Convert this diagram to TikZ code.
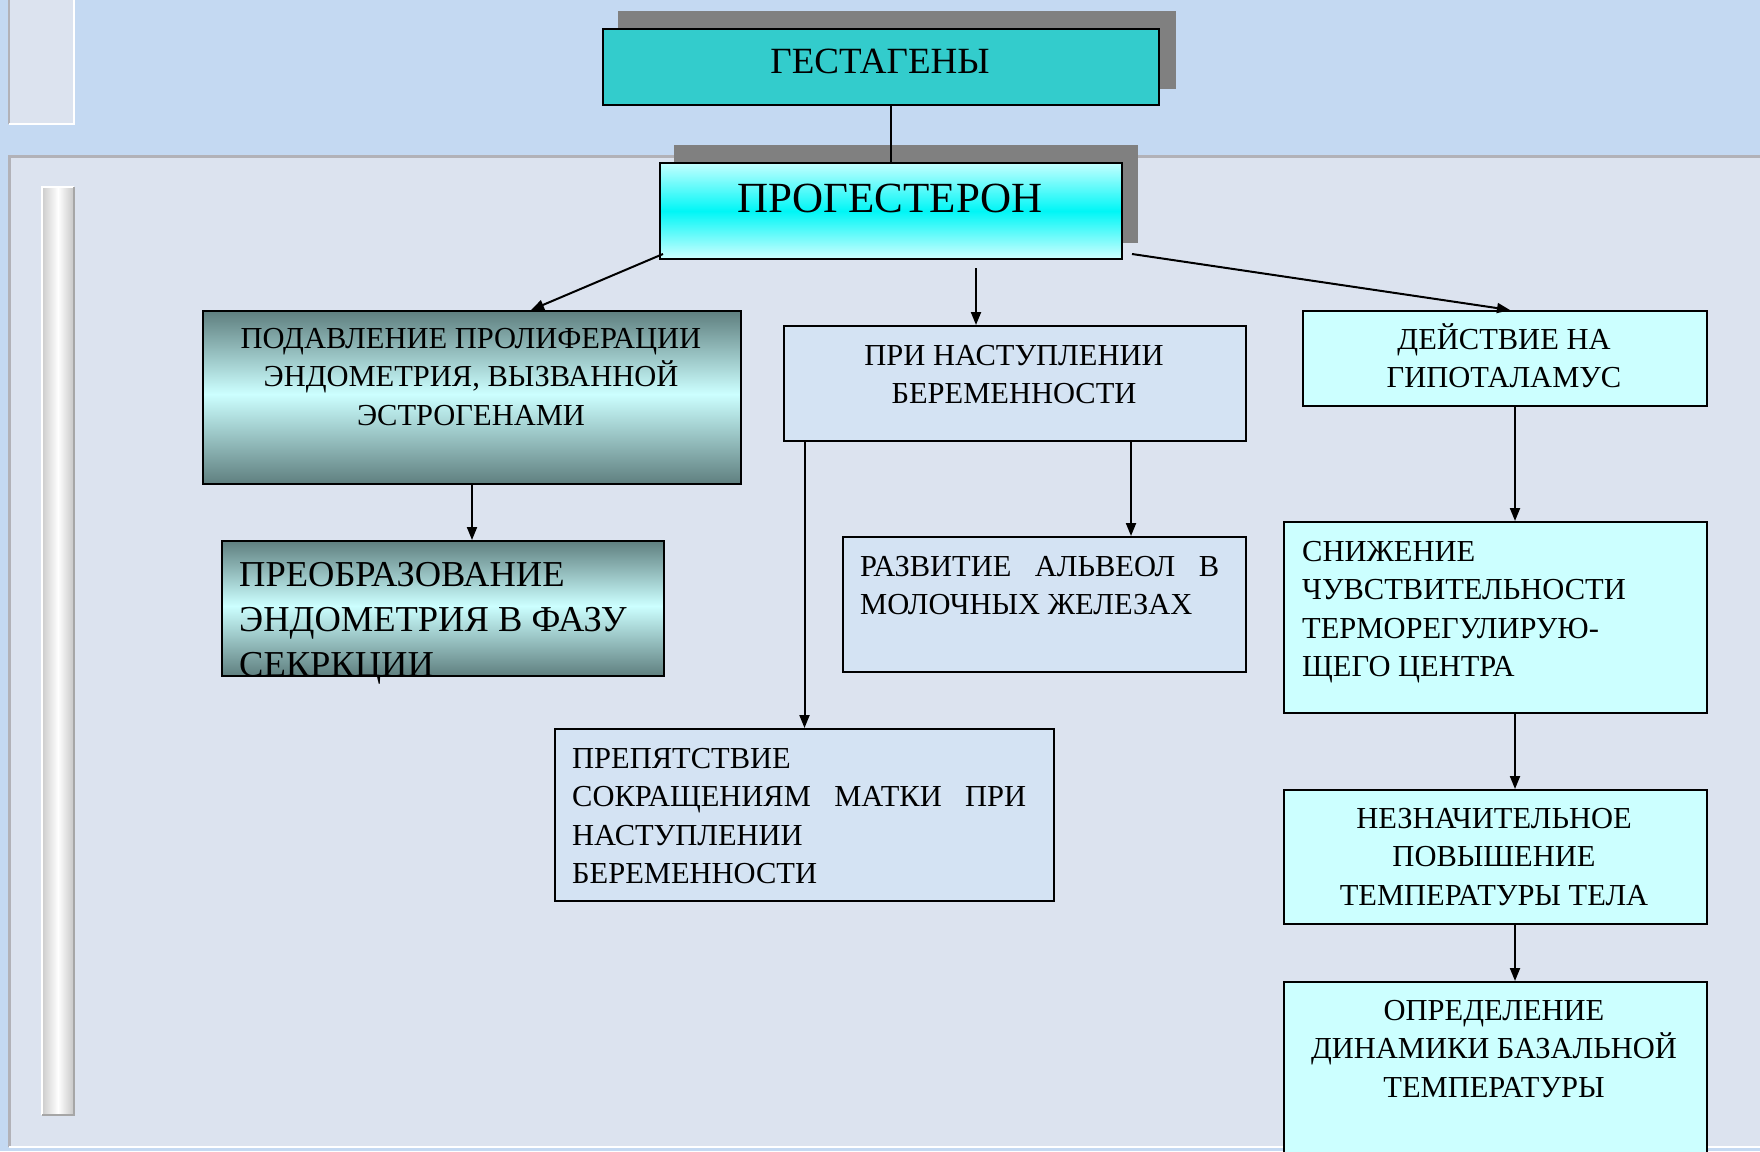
\documentclass[tikz,border=0pt]{standalone}
\usepackage{fontspec}
\setmainfont{Liberation Serif}
\usetikzlibrary{arrows.meta}

% palette
\definecolor{bandblue}{HTML}{C4D9F2}
\definecolor{panelgray}{HTML}{DCE3EF}
\definecolor{panelline}{HTML}{B2B2B8}
\definecolor{paleblue}{HTML}{D4E3F3}
\definecolor{palecyan}{HTML}{CCFFFF}
\definecolor{gestfill}{HTML}{33CCCC}
\definecolor{shadowgray}{HTML}{808080}
\definecolor{progtop}{HTML}{C4FFFF}
\definecolor{progcyan}{HTML}{00F6F6}
\definecolor{progbot}{HTML}{D0FFFF}
\definecolor{steeldark}{HTML}{5F7F7F}
\definecolor{steellight}{HTML}{CCFFFF}

% vertical shadings: the node's box spans 25bp (bottom) to 75bp (top)
\pgfdeclareverticalshading{progshade}{100bp}{color(0bp)=(progbot); color(25bp)=(progbot); color(50bp)=(progcyan); color(75bp)=(progtop); color(100bp)=(progtop)}
\pgfdeclareverticalshading{steelshade}{100bp}{color(0bp)=(steeldark); color(25bp)=(steeldark); color(51bp)=(steellight); color(75bp)=(steeldark); color(100bp)=(steeldark)}

% text nodes are placed by the baseline of their last line
\tikzset{
  box/.style={draw=black, line width=2pt, inner sep=0pt, anchor=north west},
  conn/.style={line width=2pt, -{Triangle[length=13pt,width=10pt]}},
  plain/.style={line width=2pt},
  ctxt/.style={inner sep=0pt, font=\fontsize{30.5}{38.5}\selectfont, align=center, anchor=base},
  ltxt/.style={inner sep=0pt, font=\fontsize{30.5}{38.5}\selectfont, align=left, anchor=base west},
}

\begin{document}
\begin{tikzpicture}[x=1pt, y=-1pt]
\useasboundingbox (0,0) rectangle (1760,1151);
\begin{scope}
\clip (0,0) rectangle (1760,1151);

% backdrop
\fill[bandblue] (0,0) rectangle (1760,1151);
\fill[panelgray] (9,0) rectangle (74,124);
\draw[panelline, line width=2pt] (9,0) -- (9,124);
\draw[white, line width=2.5pt] (74,0) -- (74,124) -- (9,124);
\fill[panelgray] (9,156) rectangle (1760,1147);
\draw[panelline, line width=3pt] (9,1147) -- (9,156) -- (1760,156);
\draw[white, line width=2pt] (9,1147) -- (1760,1147);

% marbled side strip
\shade[left color=gray!40, right color=gray!45, middle color=white] (42,187) rectangle (74,1115);
\draw[white, line width=2pt] (42,1115) -- (42,187) -- (74,187);
\draw[gray!70, line width=1.5pt] (74,187) -- (74,1115) -- (42,1115);

% title boxes with drop shadows
\fill[shadowgray] (618,11) rectangle (1176,89);
\node[box, fill=gestfill, minimum width=556pt, minimum height=76pt] (gest) at (602,28) {};
\node[inner sep=0pt, anchor=base, font=\fontsize{37}{44}\selectfont] (gestt) at (880,73) {ГЕСТАГЕНЫ};

\fill[shadowgray] (674,145) rectangle (1138,243);
\node[box, shading=progshade, minimum width=462pt, minimum height=96pt] (prog) at (659,162) {};
\node[inner sep=0pt, anchor=base, font=\fontsize{43}{50}\selectfont] (progt) at (890,212) {ПРОГЕСТЕРОН};

% effect boxes
\node[box, shading=steelshade, minimum width=538pt, minimum height=173pt] (supp) at (202,310) {};
\node[box, shading=steelshade, minimum width=442pt, minimum height=135pt] (trans) at (221,540) {};
\node[box, fill=paleblue, minimum width=462pt, minimum height=115pt] (preg) at (783,325) {};
\node[box, fill=paleblue, minimum width=403pt, minimum height=135pt] (alv) at (842,536) {};
\node[box, fill=paleblue, minimum width=499pt, minimum height=172pt] (uter) at (554,728) {};
\node[box, fill=palecyan, minimum width=404pt, minimum height=95pt] (hyp) at (1302,310) {};
\node[box, fill=palecyan, minimum width=423pt, minimum height=191pt] (sens) at (1283,521) {};
\node[box, fill=palecyan, minimum width=423pt, minimum height=134pt] (temp) at (1283,789) {};
\node[box, fill=palecyan, minimum width=423pt, minimum height=200pt] (basal) at (1283,981) {};

% box texts
\node[ctxt] (suppt) at (471,425) {ПОДАВЛЕНИЕ ПРОЛИФЕРАЦИИ\\ЭНДОМЕТРИЯ, ВЫЗВАННОЙ\\ЭСТРОГЕНАМИ};
\node[ltxt, font=\fontsize{36.5}{45}\selectfont] (transt) at (239,676) {ПРЕОБРАЗОВАНИЕ\\ЭНДОМЕТРИЯ В ФАЗУ\\СЕКРКЦИИ};
\node[ctxt] (pregt) at (1014,403.5) {ПРИ НАСТУПЛЕНИИ\\БЕРЕМЕННОСТИ};
\node[ltxt] (alvt) at (860,614.5) {\hbox to 359pt{РАЗВИТИЕ\hfill АЛЬВЕОЛ\hfill В}\\МОЛОЧНЫХ ЖЕЛЕЗАХ};
\node[ltxt] (utert) at (572,883.5) {ПРЕПЯТСТВИЕ\\\hbox to 454pt{СОКРАЩЕНИЯМ\hfill МАТКИ\hfill ПРИ}\\НАСТУПЛЕНИИ\\БЕРЕМЕННОСТИ};
\node[ctxt] (hypt) at (1504,387.5) {ДЕЙСТВИЕ НА\\ГИПОТАЛАМУС};
\node[ltxt] (senst) at (1302,676.5) {СНИЖЕНИЕ\\ЧУВСТВИТЕЛЬНОСТИ\\ТЕРМОРЕГУЛИРУЮ-\\ЩЕГО ЦЕНТРА};
\node[ctxt] (tempt) at (1494,905) {НЕЗНАЧИТЕЛЬНОЕ\\ПОВЫШЕНИЕ\\ТЕМПЕРАТУРЫ ТЕЛА};
\node[ctxt] (basalt) at (1494,1097) {ОПРЕДЕЛЕНИЕ\\ДИНАМИКИ БАЗАЛЬНОЙ\\ТЕМПЕРАТУРЫ};

% connectors
\draw[plain] (gest.south -| prog.north) -- (prog.north);
\draw[conn] ([xshift=4pt,yshift=6pt]prog.south west) -- ([xshift=329pt]supp.north west);
\coordinate (pm) at (976,268);
\draw[conn] (pm) -- (pm |- preg.north);
\draw[conn] ([xshift=9pt,yshift=6pt]prog.south east) -- ([xshift=208pt]hyp.north west);
\draw[conn] (supp.south) -- (supp.south |- trans.north);
\draw[conn] (uter.north |- preg.south) -- (uter.north);
\draw[conn] ([xshift=-116pt]preg.south east) -- ([xshift=-116pt]preg.south east |- alv.north);
\draw[conn] ([xshift=10pt]hyp.south) -- ([xshift=10pt]hyp.south |- sens.north);
\draw[conn] ([xshift=10pt]hyp.south |- sens.south) -- ([xshift=10pt]hyp.south |- temp.north);
\draw[conn] ([xshift=10pt]hyp.south |- temp.south) -- ([xshift=10pt]hyp.south |- basal.north);
\end{scope}
\end{tikzpicture}
\end{document}
